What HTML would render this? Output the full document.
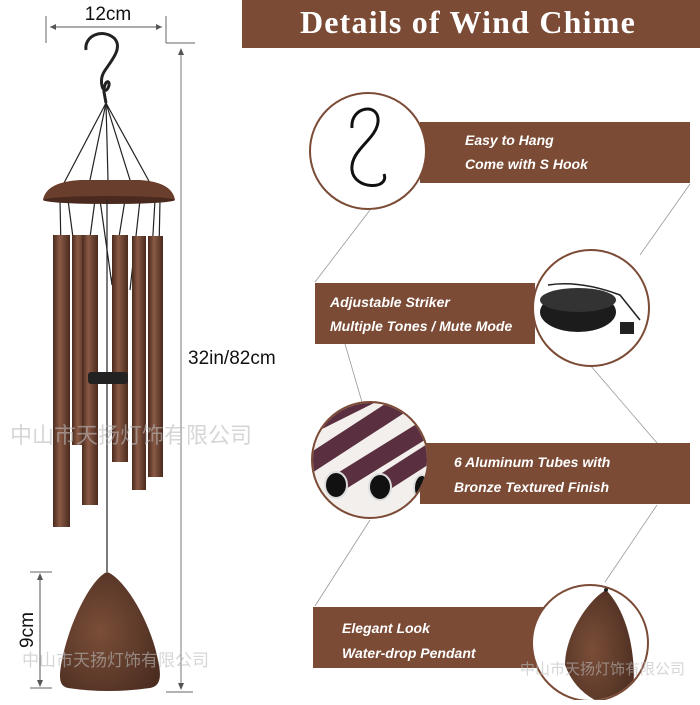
<!DOCTYPE html>
<html><head><style>
body{margin:0;width:700px;height:700px;overflow:hidden;background:#fff}
</style></head><body>
<svg width="700" height="700" viewBox="0 0 700 700" xmlns="http://www.w3.org/2000/svg" font-family="Liberation Sans, sans-serif">
<defs>
<linearGradient id="tube" x1="0" x2="1">
<stop offset="0" stop-color="#4a2a1e"/><stop offset="0.4" stop-color="#8a5a45"/><stop offset="1" stop-color="#4a2a1e"/>
</linearGradient>
<radialGradient id="pend" cx="0.4" cy="0.5" r="0.7">
<stop offset="0" stop-color="#7a4e38"/><stop offset="1" stop-color="#4a2c20"/>
</radialGradient>
<clipPath id="c3"><circle cx="370" cy="460" r="57"/></clipPath>
<clipPath id="c4"><circle cx="590" cy="643" r="57"/></clipPath>
</defs>
<!-- banner -->
<rect x="242" y="0" width="458" height="48" fill="#7b4b36"/>
<text x="468" y="33" text-anchor="middle" font-family="Liberation Serif, serif" font-weight="bold" font-size="32" letter-spacing="1.2" fill="#fff">Details of  Wind Chime</text>

<!-- dimension -->
<text x="108" y="20" text-anchor="middle" font-size="19" fill="#111">12cm</text>
<line x1="46" y1="16" x2="46" y2="43" stroke="#666"/>
<line x1="166" y1="16" x2="166" y2="43" stroke="#666"/>
<line x1="50" y1="27" x2="162" y2="27" stroke="#555"/>
<path d="M50 27l6-3v6z M162 27l-6-3v6z" fill="#555"/>
<line x1="166" y1="43" x2="195" y2="43" stroke="#666"/>
<line x1="181" y1="50" x2="181" y2="688" stroke="#777"/>
<path d="M181 48l-3 7h6z M181 690l-3-7h6z" fill="#555"/>
<line x1="166" y1="692" x2="193" y2="692" stroke="#666"/>
<text x="188" y="364" font-size="19" fill="#111">32in/82cm</text>
<line x1="30" y1="572" x2="52" y2="572" stroke="#666"/>
<line x1="30" y1="688" x2="52" y2="688" stroke="#666"/>
<line x1="40" y1="575" x2="40" y2="685" stroke="#555"/>
<path d="M40 573l-3 7h6z M40 687l-3-7h6z" fill="#555"/>
<text transform="translate(33,630) rotate(-90)" text-anchor="middle" font-size="19" fill="#111">9cm</text>

<!-- hook -->
<path d="M86 50 C84 36 102 28 114 38 C124 48 110 62 104 72 C98 82 104 96 108 88 C112 80 104 78 104 92 L106 103" fill="none" stroke="#222" stroke-width="3"/>
<!-- wires -->
<g stroke="#222" stroke-width="1.2">
<line x1="106" y1="103" x2="64" y2="183"/><line x1="106" y1="103" x2="90" y2="180"/>
<line x1="106" y1="103" x2="108" y2="180"/><line x1="106" y1="103" x2="130" y2="180"/>
<line x1="106" y1="103" x2="150" y2="183"/>
<path d="M60 200 L62 300 M68 200 L80 290 M95 200 L85 275 M100 200 L112 285 M125 200 L112 280 M140 200 L130 290 M155 200 L150 285 M160 200 L158 300" fill="none"/>
</g>
<!-- cap -->
<path d="M43 200 Q46 182 80 180 L140 180 Q172 182 175 200 Z" fill="#6a3e2c"/>
<ellipse cx="109" cy="200" rx="66" ry="4" fill="#4a2a1e"/>
<!-- tubes -->
<rect x="72" y="235" width="14" height="210" fill="url(#tube)"/>
<rect x="53" y="235" width="17" height="292" fill="url(#tube)"/>
<rect x="82" y="235" width="16" height="270" fill="url(#tube)"/>
<rect x="112" y="235" width="16" height="227" fill="url(#tube)"/>
<rect x="132" y="236" width="14" height="254" fill="url(#tube)"/>
<rect x="148" y="236" width="15" height="241" fill="url(#tube)"/>
<line x1="107" y1="200" x2="107" y2="572" stroke="#222" stroke-width="1.2"/>
<rect x="88" y="372" width="40" height="12" rx="3" fill="#222"/>
<!-- pendant -->
<path d="M107 572 C92 578 70 620 62 660 C58 680 60 686 68 688 Q108 694 150 688 C160 686 162 678 158 660 C150 620 124 578 107 572 Z" fill="url(#pend)"/>

<!-- connectors -->
<g stroke="#999" stroke-width="0.8" fill="none">
<line x1="370" y1="210" x2="315" y2="282"/>
<line x1="690" y1="184" x2="640" y2="255"/>
<line x1="590" y1="365" x2="657" y2="443"/>
<line x1="345" y1="344" x2="362" y2="402"/>
<line x1="370" y1="520" x2="315" y2="606"/>
<line x1="657" y1="505" x2="605" y2="582"/>
</g>

<!-- panel 1 -->
<rect x="420" y="122" width="270" height="61" fill="#7b4b36"/>
<circle cx="368" cy="151" r="58" fill="#fff" stroke="#7b4b36" stroke-width="2"/>
<path d="M352 128 C350 106 380 102 378 122 C376 140 350 150 352 170 C354 190 390 190 384 174" fill="none" stroke="#111" stroke-width="3"/>
<g font-style="italic" font-weight="bold" font-size="14" fill="#fff">
<text x="465" y="145">Easy to Hang</text>
<text x="465" y="169">Come with S Hook</text>
</g>
<!-- panel 2 -->
<rect x="315" y="283" width="220" height="61" fill="#7b4b36"/>
<circle cx="591" cy="308" r="58" fill="#fff" stroke="#7b4b36" stroke-width="2"/>
<ellipse cx="578" cy="312" rx="38" ry="20" fill="#1c1c1c"/>
<ellipse cx="578" cy="300" rx="38" ry="12" fill="#333"/>
<path d="M548 285 Q580 280 620 295 L640 320" fill="none" stroke="#222" stroke-width="1.5"/>
<rect x="620" y="322" width="14" height="12" fill="#222"/>
<g font-style="italic" font-weight="bold" font-size="14" fill="#fff">
<text x="330" y="307">Adjustable Striker</text>
<text x="330" y="331">Multiple Tones / Mute Mode</text>
</g>
<!-- panel 3 -->
<rect x="420" y="443" width="270" height="61" fill="#7b4b36"/>
<circle cx="370" cy="460" r="58" fill="#f3efed" stroke="#7b4b36" stroke-width="2"/>
<g clip-path="url(#c3)">
<g stroke="#5a3040" stroke-width="18">
<line x1="300" y1="470" x2="400" y2="405"/><line x1="340" y1="482" x2="440" y2="420"/><line x1="380" y1="485" x2="450" y2="440"/><line x1="300" y1="430" x2="370" y2="395"/>
</g>
<ellipse cx="336" cy="485" rx="11" ry="13" fill="#111" stroke="#ddd" stroke-width="2"/>
<ellipse cx="380" cy="487" rx="11" ry="13" fill="#111" stroke="#ddd" stroke-width="2"/>
<ellipse cx="422" cy="488" rx="8" ry="13" fill="#111" stroke="#ddd" stroke-width="2"/>
</g>
<g font-style="italic" font-weight="bold" font-size="14" fill="#fff">
<text x="454" y="467">6 Aluminum Tubes with</text>
<text x="454" y="492">Bronze Textured Finish</text>
</g>
<!-- panel 4 -->
<rect x="313" y="607" width="232" height="61" fill="#7b4b36"/>
<circle cx="590" cy="643" r="58" fill="#fff" stroke="#7b4b36" stroke-width="2"/>
<g clip-path="url(#c4)">
<path d="M606 590 C588 600 565 635 565 665 Q580 705 630 710 C638 680 635 620 606 590 Z" fill="url(#pend)"/>
</g>
<circle cx="606" cy="590" r="2" fill="#222"/>
<g font-style="italic" font-weight="bold" font-size="14" fill="#fff">
<text x="342" y="633">Elegant  Look</text>
<text x="342" y="658">Water-drop Pendant</text>
</g>

<!-- watermarks -->
<g font-family="Liberation Sans, Noto Sans CJK SC, sans-serif" fill="#bbb" fill-opacity="0.6">
<text x="10" y="443" font-size="22">中山市天扬灯饰有限公司</text>
<text x="22" y="666" font-size="17">中山市天扬灯饰有限公司</text>
<text x="520" y="674" font-size="15">中山市天扬灯饰有限公司</text>
</g>
</svg>
</body></html>
